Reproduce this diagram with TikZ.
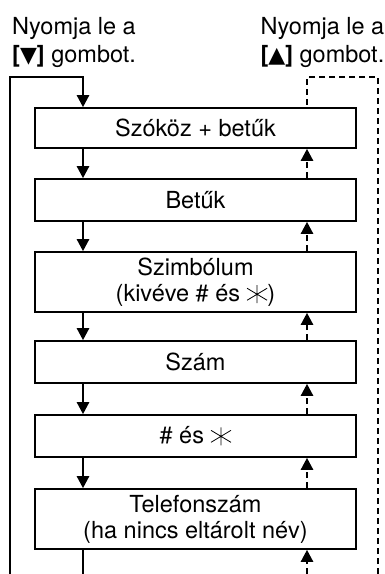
\documentclass[tikz,border=0pt]{standalone}
\usepackage{fontspec}
\usepackage{graphicx}
\setmainfont{TeX Gyre Heros}
\newfontfamily\symfont{DejaVu Sans}
\usetikzlibrary{arrows.meta}
\newcommand\myast{\tikz[baseline={(0,-0.3em)},x=1pt,y=1pt,line width=0.8pt,line cap=butt]{\draw[solid,-] (0,-9)--(0,9) (-10,-6)--(10,6) (-10,6)--(10,-6);}}
\tikzset{
  stepbox/.style={draw, line width=1.6pt, minimum width=321pt, inner sep=0pt, align=center, font=\fontsize{23.5}{26}\selectfont},
  lbl/.style={inner sep=0pt, font=\fontsize{23.5}{28}\selectfont},
  down/.style={line width=2.4pt, -{Triangle[width=12pt,length=12pt]}},
  plain/.style={line width=2.4pt},
  up/.style={line width=2.4pt, dash pattern=on 6pt off 4pt, -{Triangle[width=12pt,length=12pt]}},
  dline/.style={line width=2.4pt, dash pattern=on 6pt off 4pt},
}
\begin{document}
\begin{tikzpicture}[x=1pt,y=-1pt]
\useasboundingbox (0,0) rectangle (385,574);
\coordinate (L) at (83,0);
\coordinate (R) at (307,0);
\coordinate (loopL) at (10,574);
\coordinate (loopTL) at (10,77);
\coordinate (loopTM) at (83,77);
\coordinate (loopR) at (378,574);
\coordinate (loopTR) at (378,77);
\coordinate (loopTRM) at (307,77);
\coordinate (botL) at (83,574);
\coordinate (botR) at (307,574);

\node[lbl, anchor=north west, align=left] (tl) at (12,17.5) {Nyomja le a\\{\bfseries[}{\symfont\fontsize{22}{28}\selectfont▼}{\bfseries]} gombot.};
\node[lbl, anchor=north east, align=right] (tr) at (384.5,17.5) {Nyomja le a\\{\bfseries[}{\symfont\fontsize{22}{28}\selectfont▲}{\bfseries]} gombot.};

\node[stepbox, minimum height=40pt] (b1) at (195.5,128) {Szóköz + betűk};
\node[stepbox, minimum height=42pt] (b2) at (195.5,200) {Betűk};
\node[stepbox, minimum height=60pt] (b3) at (195.5,282) {Szimbólum\\(kivéve \# és \myast)};
\node[stepbox, minimum height=42pt] (b4) at (195.5,362) {Szám};
\node[stepbox, minimum height=42pt] (b5) at (195.5,436) {\# és \myast};
\node[stepbox, minimum height=60pt] (b6) at (195.5,519) {Telefonszám\\(ha nincs eltárolt név)};

% down path
\draw[down] (loopL) -- (loopTL) -- (loopTM) -- (b1.north -| L);
\draw[down] (b1.south -| L) -- (b2.north -| L);
\draw[down] (b2.south -| L) -- (b3.north -| L);
\draw[down] (b3.south -| L) -- (b4.north -| L);
\draw[down] (b4.south -| L) -- (b5.north -| L);
\draw[down] (b5.south -| L) -- (b6.north -| L);
\draw[plain] (b6.south -| L) -- (botL);

% up path
\draw[dline] (loopR) -- (loopTR) -- (loopTRM) -- (b1.north -| R);
\draw[up] (b2.north -| R) -- (b1.south -| R);
\draw[up] (b3.north -| R) -- (b2.south -| R);
\draw[up] (b4.north -| R) -- (b3.south -| R);
\draw[up] (b5.north -| R) -- (b4.south -| R);
\draw[up] (b6.north -| R) -- (b5.south -| R);
\draw[up] (botR) -- (b6.south -| R);
\end{tikzpicture}
\end{document}
